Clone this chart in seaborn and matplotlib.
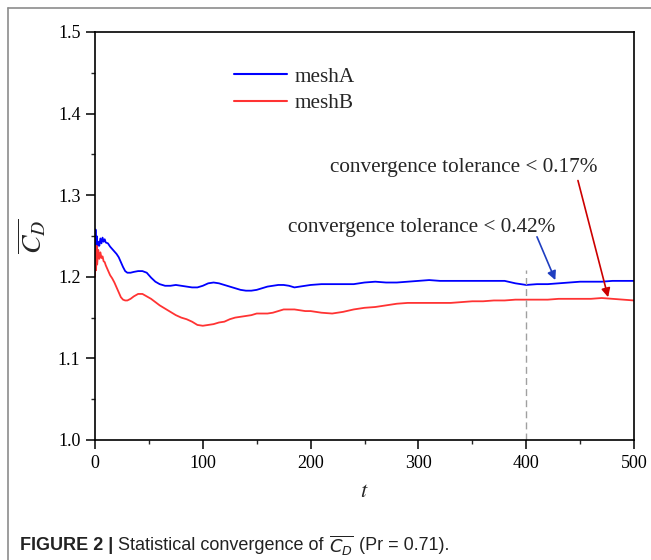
import matplotlib
matplotlib.use("Agg")
import matplotlib.pyplot as plt
from matplotlib.lines import Line2D
from matplotlib import font_manager
import numpy as np
import pandas as pd
import seaborn as sns

# time series of the mean drag coefficient for the two meshes
t_a = [0, 0.5, 1, 1.5, 2, 3, 4, 5, 6, 7, 8, 9, 10, 12, 14, 16, 18, 20, 22, 24, 26, 28,
       30, 33, 36, 40, 44, 48, 52, 56, 60, 65, 70, 75, 80, 85, 90, 95, 100, 105, 110,
       115, 120, 125, 130, 135, 140, 145, 150, 155, 160, 165, 170, 175, 180, 185, 190,
       195, 200, 210, 220, 230, 240, 250, 260, 270, 280, 290, 300, 310, 320, 330, 340,
       350, 360, 370, 380, 390, 400, 410, 420, 430, 440, 450, 460, 470, 480, 490, 500]
cd_a = [1.215, 1.258, 1.226, 1.250, 1.236, 1.243, 1.238, 1.247, 1.241, 1.248, 1.243,
        1.246, 1.242, 1.241, 1.237, 1.234, 1.231, 1.228, 1.224, 1.218, 1.212, 1.207,
        1.205, 1.205, 1.206, 1.207, 1.207, 1.205, 1.199, 1.194, 1.191, 1.189, 1.189,
        1.190, 1.189, 1.188, 1.187, 1.187, 1.189, 1.192, 1.193, 1.192, 1.190, 1.188,
        1.186, 1.184, 1.183, 1.183, 1.184, 1.186, 1.188, 1.189, 1.190, 1.190, 1.189,
        1.187, 1.188, 1.189, 1.190, 1.191, 1.191, 1.191, 1.191, 1.193, 1.194, 1.193,
        1.193, 1.194, 1.195, 1.196, 1.195, 1.195, 1.195, 1.195, 1.195, 1.195, 1.195,
        1.192, 1.190, 1.191, 1.191, 1.192, 1.193, 1.194, 1.194, 1.194, 1.195, 1.195,
        1.195]

t_b = list(t_a)
cd_b = [1.200, 1.232, 1.208, 1.238, 1.215, 1.233, 1.222, 1.230, 1.223, 1.225, 1.219,
        1.218, 1.214, 1.208, 1.202, 1.198, 1.193, 1.187, 1.181, 1.175, 1.172, 1.171,
        1.171, 1.173, 1.176, 1.179, 1.179, 1.176, 1.173, 1.169, 1.165, 1.161, 1.157,
        1.153, 1.150, 1.148, 1.145, 1.141, 1.140, 1.141, 1.142, 1.144, 1.145, 1.148,
        1.150, 1.151, 1.152, 1.153, 1.155, 1.155, 1.155, 1.156, 1.158, 1.160, 1.160,
        1.160, 1.159, 1.158, 1.158, 1.156, 1.155, 1.157, 1.160, 1.162, 1.163, 1.165,
        1.167, 1.168, 1.168, 1.168, 1.168, 1.168, 1.169, 1.170, 1.170, 1.171, 1.171,
        1.172, 1.172, 1.172, 1.172, 1.173, 1.173, 1.173, 1.173, 1.174, 1.173, 1.172,
        1.171]

series_names = ["meshA", "meshB"]
series_colors = ["#0000ff", "#ff3333"]

x_ticks = [0, 100, 200, 300, 400, 500]
y_ticks = [1.0, 1.1, 1.2, 1.3, 1.4, 1.5]

t_check = 400
notes = ["convergence tolerance < 0.42%", "convergence tolerance < 0.17%"]

df = pd.concat([
    pd.DataFrame({"t": t_a, "CD": cd_a, "mesh": series_names[0]}),
    pd.DataFrame({"t": t_b, "CD": cd_b, "mesh": series_names[1]}),
], ignore_index=True)

sns.set_theme(style="ticks")
serif = ["Liberation Serif", "DejaVu Serif"]
plt.rcParams["font.family"] = serif
plt.rcParams["mathtext.fontset"] = "stix"

W, H = 651, 560
fig = plt.figure(figsize=(W / 100, H / 100), dpi=100)
ax = fig.add_axes([95 / W, 1 - 440 / H, (634 - 95) / W, (440 - 32) / H])

sns.lineplot(data=df, x="t", y="CD", hue="mesh", palette=series_colors,
             linewidth=1.3, ax=ax, estimator=None, sort=False)

ax.set_xlim(0, 500)
ax.set_ylim(1.0, 1.5)
ax.set_xticks(x_ticks)
ax.set_yticks(y_ticks)
ax.set_xticklabels([str(v) for v in x_ticks])
ax.set_yticklabels([f"{v:.1f}" for v in y_ticks])
ax.set_xticks(np.arange(50, 500, 100), minor=True)
ax.set_yticks(np.arange(1.05, 1.5, 0.1), minor=True)
ax.tick_params(axis="both", which="major", direction="out", length=6.5, width=1.1,
               labelsize=13, colors="black", pad=4)
ax.tick_params(axis="both", which="minor", direction="out", length=3, width=1.0)
ax.tick_params(top=False, right=False)
for s in ax.spines.values():
    s.set_visible(True)
    s.set_linewidth(1.2)
    s.set_color("black")

ax.set_xlabel("$t$", fontsize=16, labelpad=8)
ax.set_ylabel(r"$\overline{C_D}$", fontsize=20, labelpad=7)

# vertical reference line where the tolerance is evaluated
ax.plot([t_check, t_check], [1.0, 1.208], color="#a0a0a0", lw=1.0, ls=(0, (5, 3)))

ax.annotate("", xy=(427, 1.196), xytext=(410, 1.249),
            arrowprops=dict(arrowstyle="-|>", color="#1f3ec0", lw=1.2,
                            mutation_scale=13, shrinkA=0, shrinkB=0))
ax.text(303, 1.261, notes[0], fontsize=15.3, ha="center", va="center")
ax.annotate("", xy=(476, 1.175), xytext=(448, 1.318),
            arrowprops=dict(arrowstyle="-|>", color="#cc0000", lw=1.2,
                            mutation_scale=13, shrinkA=0, shrinkB=0))
ax.text(342, 1.334, notes[1], fontsize=15.3, ha="center", va="center")

leg = ax.legend(loc="upper left", bbox_to_anchor=(0.223, 0.962), frameon=False,
                fontsize=15.3, handlelength=2.5, labelspacing=0.33, handletextpad=0.35)
for line in leg.get_lines():
    line.set_linewidth(1.5)

# outer frame
fig.add_artist(Line2D([8 / W, 8 / W], [0, 1 - 8 / H], transform=fig.transFigure,
                      color="#8c8c8c", lw=1.2))
fig.add_artist(Line2D([8 / W, 1], [1 - 8 / H, 1 - 8 / H], transform=fig.transFigure,
                      color="#8c8c8c", lw=1.2))

# caption built from pieces with different weights
avail = {f.name for f in font_manager.fontManager.ttflist}
cap_font = "Liberation Sans Narrow" if "Liberation Sans Narrow" in avail else "Liberation Sans"
cap_y = 1 - 545 / H
renderer = fig.canvas.get_renderer()
x = 20 / W
pieces = [("FIGURE 2 |", "bold", None), (" Statistical convergence of ", "normal", None),
          (r"$\overline{C_D}$", "normal", "dejavusans"), (" (Pr = 0.71).", "normal", None)]
for txt, wt, mf in pieces:
    kw = dict(fontsize=13, fontweight=wt, family=cap_font, va="center", ha="left",
              color="#222222")
    if mf:
        kw["math_fontfamily"] = mf
    tt = fig.text(x, cap_y, txt, **kw)
    bb = tt.get_window_extent(renderer=renderer)
    x += bb.width / W

fig.savefig("out.png", dpi=100)
